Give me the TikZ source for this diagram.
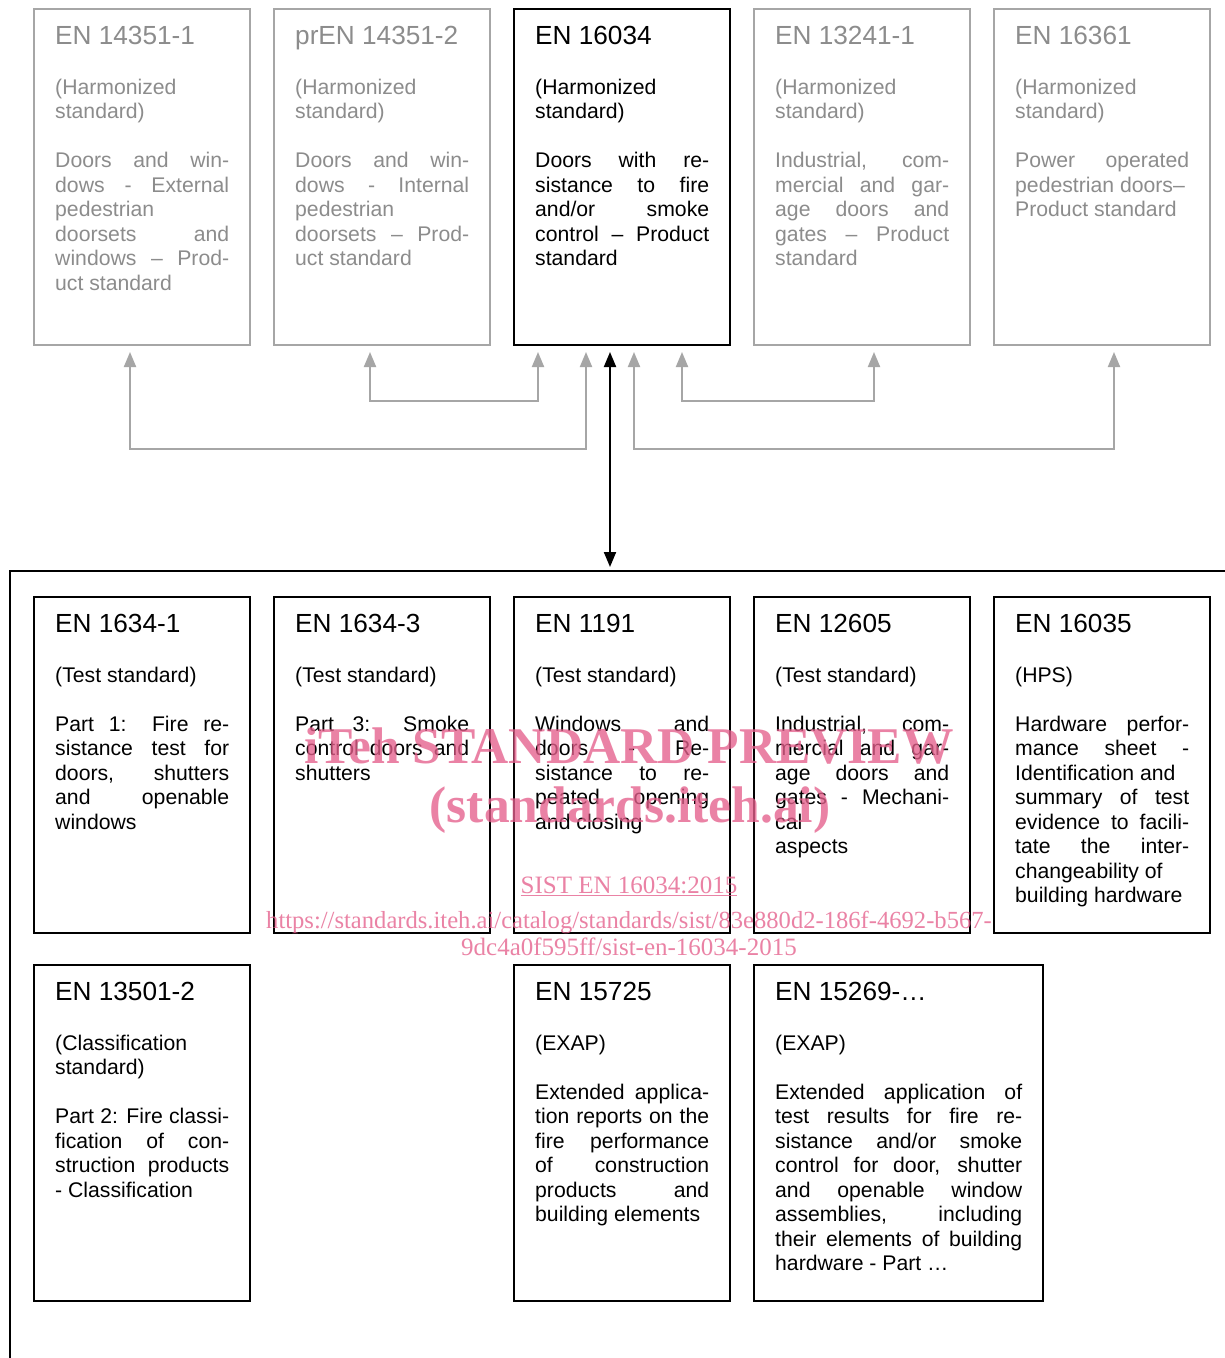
\documentclass[tikz,border=0pt]{standalone}
\usepackage{fontspec}
\setmainfont{Liberation Sans}
\newfontfamily\wmfont{Liberation Serif}
\usetikzlibrary{arrows.meta,calc}
\definecolor{gcol}{HTML}{A6A6A6}
\definecolor{gtxt}{HTML}{8C8C8C}
\definecolor{wmcol}{HTML}{E5608C}
\newcommand\titlesize{\fontsize{26.2pt}{30pt}\selectfont}
\newcommand\bodysize{\fontsize{21.2pt}{24.5pt}\selectfont}
\newcommand\Jl[1]{\makebox[\linewidth][s]{#1}\par}
\newcommand\Ll[1]{\mbox{#1}\par}
\newcommand\Bl{\mbox{}\par}
\newcommand\stdbox[7]{%
  \node[#5, minimum width=#4pt, minimum height=336pt, anchor=north west] (#1) at (#2,#3) {};
  \node[#5text, anchor=base west] (#1h) at (#2+21,#3+35) {\titlesize #6};
  \node[#5text, anchor=base west] (#1b) at (#2+21,#3+85) {\parbox[t]{\dimexpr#4pt-42pt\relax}{\bodysize #7}};
}
\tikzset{
  gbox/.style={draw=gcol, line width=2pt, outer sep=0pt, inner sep=0pt},
  gboxtext/.style={text=gtxt, inner sep=0pt},
  kbox/.style={draw=black, line width=2pt, outer sep=0pt, inner sep=0pt},
  kboxtext/.style={text=black, inner sep=0pt},
  gconn/.style={draw=gcol, line width=2pt, {Triangle[length=15pt,width=12pt]}-{Triangle[length=15pt,width=12pt]}},
  kconn/.style={draw=black, line width=2pt, {Triangle[length=15pt,width=12pt]}-{Triangle[length=15pt,width=12pt]}},
  wm/.style={text=wmcol, text opacity=0.78, inner sep=0pt},
}
\begin{document}
\begin{tikzpicture}[x=1pt,y=-1pt]
\useasboundingbox[fill=white] (0,0) rectangle (1225,1358);
% top row
\stdbox{t1}{34}{9}{216}{gbox}{EN 14351-1}{\Ll{(Harmonized}\Ll{standard)}\Bl\Jl{Doors and win-}\Jl{dows - External}\Ll{pedestrian}\Jl{doorsets and}\Jl{windows – Prod-}\Ll{uct standard}}
\stdbox{t2}{274}{9}{216}{gbox}{prEN 14351-2}{\Ll{(Harmonized}\Ll{standard)}\Bl\Jl{Doors and win-}\Jl{dows - Internal}\Ll{pedestrian}\Jl{doorsets – Prod-}\Ll{uct standard}}
\stdbox{t3}{514}{9}{216}{kbox}{EN 16034}{\Ll{(Harmonized}\Ll{standard)}\Bl\Jl{Doors with re-}\Jl{sistance to fire}\Jl{and/or smoke}\Jl{control – Product}\Ll{standard}}
\stdbox{t4}{754}{9}{216}{gbox}{EN 13241-1}{\Ll{(Harmonized}\Ll{standard)}\Bl\Jl{Industrial, com-}\Jl{mercial and gar-}\Jl{age doors and}\Jl{gates – Product}\Ll{standard}}
\stdbox{t5}{994}{9}{216}{gbox}{EN 16361}{\Ll{(Harmonized}\Ll{standard)}\Bl\Jl{Power operated}\Ll{pedestrian doors–}\Ll{Product standard}}
% outer frame
\coordinate (frameTL) at (10,571);
\draw[line width=2pt] (frameTL) ++(0,800) -- (frameTL) -- ++(1230,0);
% row 1
\stdbox{b1}{34}{597}{216}{kbox}{EN 1634-1}{\Ll{(Test standard)}\Bl\Jl{Part 1: Fire re-}\Jl{sistance test for}\Jl{doors, shutters}\Jl{and openable}\Ll{windows}}
\stdbox{b2}{274}{597}{216}{kbox}{EN 1634-3}{\Ll{(Test standard)}\Bl\Jl{Part 3: Smoke}\Jl{control doors and}\Ll{shutters}}
\stdbox{b3}{514}{597}{216}{kbox}{EN 1191}{\Ll{(Test standard)}\Bl\Jl{Windows and}\Jl{doors - Re-}\Jl{sistance to re-}\Jl{peated opening}\Ll{and closing}}
\stdbox{b4}{754}{597}{216}{kbox}{EN 12605}{\Ll{(Test standard)}\Bl\Jl{Industrial, com-}\Jl{mercial and gar-}\Jl{age doors and}\Jl{gates - Mechani-}\Ll{cal}\Ll{aspects}}
\stdbox{b5}{994}{597}{216}{kbox}{EN 16035}{\Ll{(HPS)}\Bl\Jl{Hardware perfor-}\Jl{mance sheet -}\Ll{Identification and}\Jl{summary of test}\Jl{evidence to facili-}\Jl{tate the inter-}\Ll{changeability of}\Ll{building hardware}}
% row 2
\stdbox{c1}{34}{965}{216}{kbox}{EN 13501-2}{\Ll{(Classification}\Ll{standard)}\Bl\Jl{Part 2: Fire classi-}\Jl{fication of con-}\Jl{struction products}\Ll{- Classification}}
\stdbox{c3}{514}{965}{216}{kbox}{EN 15725}{\Ll{(EXAP)}\Bl\Jl{Extended applica-}\Jl{tion reports on the}\Jl{fire performance}\Jl{of construction}\Jl{products and}\Ll{building elements}}
\stdbox{c4}{754}{965}{289}{kbox}{EN 15269-…}{\Ll{(EXAP)}\Bl\Jl{Extended application of}\Jl{test results for fire re-}\Jl{sistance and/or smoke}\Jl{control for door, shutter}\Jl{and openable window}\Jl{assemblies, including}\Jl{their elements of building}\Ll{hardware - Part …}}
% connector end points
\coordinate (p1) at ($(t1.south west)+(96,7)$);
\coordinate (p2) at ($(t2.south west)+(96,7)$);
\coordinate (p3) at ($(t3.south west)+(24,7)$);
\coordinate (p4) at ($(t3.south west)+(72,7)$);
\coordinate (p5) at ($(t3.south west)+(96,7)$);
\coordinate (p6) at ($(t3.south west)+(120,7)$);
\coordinate (p7) at ($(t3.south west)+(168,7)$);
\coordinate (p8) at ($(t4.south west)+(120,7)$);
\coordinate (p9) at ($(t5.south west)+(120,7)$);
\coordinate (fr) at ($(frameTL)+(600,-4)$);
\draw[gconn] (p1) -- ++(0,97) -| (p4);
\draw[gconn] (p2) -- ++(0,48.5) -| (p3);
\draw[gconn] (p7) -- ++(0,48.5) -| (p8);
\draw[gconn] (p6) -- ++(0,97) -| (p9);
\draw[kconn] (p5) -- (fr);
% watermark
\node[wm, font=\wmfont\bfseries\fontsize{51.5pt}{56pt}\selectfont, anchor=base] (w1) at (629,763) {iTeh STANDARD PREVIEW};
\node[wm, font=\wmfont\bfseries\fontsize{51.5pt}{56pt}\selectfont, anchor=base] (w2) at (630,822) {(standards.iteh.ai)};
\node[wm, font=\wmfont\fontsize{25pt}{28pt}\selectfont, anchor=base] (w3) at (629,893) {\underline{SIST EN 16034:2015}};
\node[wm, font=\wmfont\fontsize{24.6pt}{28pt}\selectfont, anchor=base] (w4) at (629,928) {https://standards.iteh.ai/catalog/standards/sist/83e880d2-186f-4692-b567-};
\node[wm, font=\wmfont\fontsize{25pt}{28pt}\selectfont, anchor=base] (w5) at (629,955) {9dc4a0f595ff/sist-en-16034-2015};
\end{tikzpicture}
\end{document}
